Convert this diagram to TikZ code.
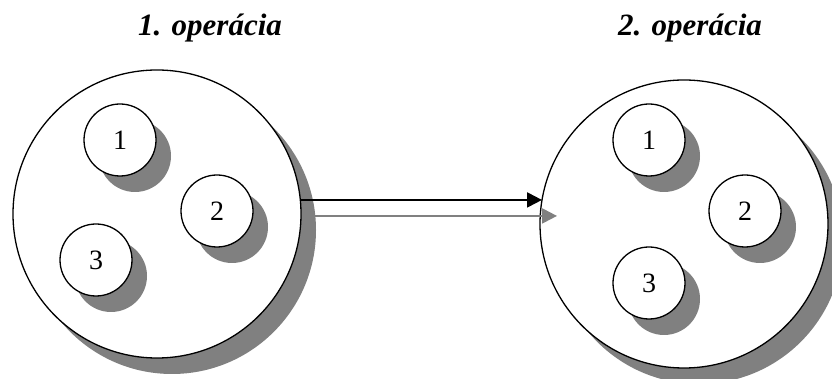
\documentclass[tikz,border=0pt]{standalone}
\usepackage{fontspec}
\setmainfont{Liberation Serif}
\usetikzlibrary{shadows,arrows.meta}
\tikzset{
  shad/.style={drop shadow={shadow xshift=15pt,shadow yshift=-16pt,fill=black!50,opacity=1}},
  bigc/.style={circle,draw=black,line width=1.3pt,fill=white,inner sep=0pt,minimum size=288pt,shad},
  smallc/.style={circle,draw=black,line width=1.3pt,fill=white,inner sep=0pt,minimum size=72pt,shad,font=\fontsize{28}{30}\selectfont},
  title/.style={anchor=base,font=\fontsize{31}{34}\selectfont\bfseries\itshape},
  arr/.style={line width=2pt,-{Triangle[length=15pt,width=15pt]}}
}
\begin{document}
\begin{tikzpicture}[x=1pt,y=1pt]
\useasboundingbox (0,0) rectangle (832,379);
\node[title] (t1) at (210,343) {1. operácia};
\node[title] (t2) at (690,343) {2. operácia};
\node[bigc] (A) at (157,165) {};
\node[smallc] (a1) at (120,239) {1};
\node[smallc] (a2) at (217,168) {2};
\node[smallc] (a3) at (96,119) {3};
\node[bigc] (B) at (684,155) {};
\node[smallc] (b1) at (649,239) {1};
\node[smallc] (b2) at (745,168) {2};
\node[smallc] (b3) at (649,96) {3};
\coordinate (s) at ([shift={(5.6:144)}]A.center);
\coordinate (e) at ([shift={(170.4:144)}]B.center);
\coordinate (s2) at ([shift={(15,-16)}]s);
\coordinate (e2) at ([shift={(15,-16)}]e);
\draw[arr,black] (s) -- (s -| e);
\draw[arr,black!50] (s2) -- (s2 -| e2);
\end{tikzpicture}
\end{document}
